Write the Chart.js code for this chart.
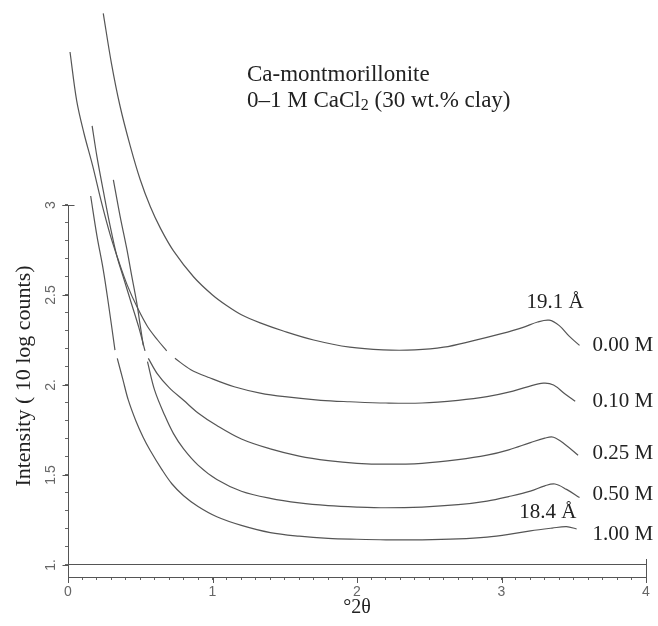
<!DOCTYPE html>
<html><head><meta charset="utf-8">
<script src="https://cdn.jsdelivr.net/npm/chart.js@4.4.1/dist/chart.umd.min.js"></script>
<style>html,body{margin:0;padding:0;background:#fff}#wrap{width:658px;height:626px;position:relative}</style>
</head><body><div id="wrap"><canvas id="c" width="658" height="626"></canvas></div>
<script>
// ---- data ----
const seriesNames = ['0.00 M', '0.10 M', '0.25 M', '0.50 M', '1.00 M'];

const x000 = [0.244,0.30,0.36,0.43,0.50,0.57,0.64,0.73,0.87,1.00,1.10,1.20,1.33,1.49,1.70,1.95,2.18,2.40,2.60,2.80,3.00,3.15,3.25,3.33,3.40,3.47,3.54];
const y000 = [4.065,3.79,3.55,3.33,3.14,2.99,2.87,2.745,2.60,2.50,2.44,2.39,2.345,2.30,2.25,2.21,2.195,2.195,2.21,2.245,2.285,2.32,2.35,2.36,2.33,2.27,2.22];

const x010 = [0.014,0.06,0.11,0.17,0.23,0.29,0.35,0.41,0.48,0.55,0.62,0.683,0.71,0.74,0.85,0.98,1.15,1.33,1.50,1.75,1.95,2.20,2.45,2.70,2.90,3.05,3.18,3.29,3.36,3.44,3.51];
const y010 = [3.85,3.58,3.40,3.22,3.02,2.84,2.69,2.555,2.43,2.325,2.25,2.19,null,2.148,2.085,2.04,1.99,1.955,1.935,1.915,1.907,1.90,1.90,1.915,1.935,1.96,1.99,2.01,2.00,1.95,1.91];

const x025 = [0.167,0.20,0.244,0.29,0.337,0.39,0.44,0.49,0.533,0.545,0.556,0.62,0.70,0.80,0.90,1.03,1.20,1.40,1.60,1.80,2.00,2.20,2.45,2.70,2.90,3.05,3.20,3.30,3.36,3.44,3.53];
const y025 = [3.44,3.27,3.08,2.89,2.72,2.58,2.45,2.32,2.19,null,2.148,2.06,1.985,1.915,1.845,1.775,1.70,1.645,1.605,1.58,1.565,1.56,1.565,1.585,1.61,1.64,1.68,1.705,1.71,1.67,1.61];

const x050 = [0.314,0.36,0.406,0.44,0.475,0.50,0.521,0.535,0.55,0.60,0.67,0.73,0.80,0.90,1.03,1.20,1.40,1.60,1.80,2.00,2.20,2.45,2.70,2.90,3.05,3.20,3.30,3.37,3.45,3.54];
const y050 = [3.14,2.94,2.76,2.61,2.46,2.33,2.22,null,2.13,1.97,1.83,1.73,1.645,1.555,1.475,1.41,1.37,1.345,1.33,1.322,1.318,1.322,1.335,1.355,1.38,1.41,1.44,1.45,1.42,1.375];

const x100 = [0.157,0.20,0.244,0.28,0.325,0.333,0.341,0.38,0.417,0.47,0.52,0.567,0.65,0.72,0.80,0.90,1.03,1.20,1.40,1.60,1.80,2.00,2.20,2.45,2.70,2.90,3.05,3.20,3.35,3.45,3.52];
const y100 = [3.05,2.83,2.64,2.45,2.194,null,2.148,2.03,1.917,1.80,1.71,1.639,1.53,1.45,1.385,1.325,1.268,1.22,1.18,1.16,1.148,1.143,1.14,1.14,1.145,1.155,1.17,1.19,1.205,1.213,1.20];

const xTickLabels = ['0', '1', '2', '3', '4'];
const yTickValues = [1, 1.5, 2, 2.5, 3];
const yTickLabels = ['1.', '1.5', '2.', '2.5', '3'];

const peakLabels = ['19.1 Å', '18.4 Å'];
const peakLabelX = [3.37, 3.32];
const peakLabelY = [2.46, 1.29];
const seriesLabelX = 3.63;
const seriesLabelY = [2.22, 1.906, 1.62, 1.39, 1.167];

const titleLine1 = 'Ca-montmorillonite';
const titleLine2 = ['0–1 M CaCl', '2', ' (30 wt.% clay)'];
const yTitle = 'Intensity ( 10 log counts)';
const xTitle = '°2θ';

// ---- chart ----
const xs = [x000, x010, x025, x050, x100];
const ys = [y000, y010, y025, y050, y100];
const datasets = seriesNames.map((n, k) => ({
  label: n,
  data: xs[k].map((x, i) => ({ x: x, y: ys[k][i] })),
  borderColor: '#555',
  borderWidth: 1.2,
  pointRadius: 0,
  fill: false,
  spanGaps: false,
  tension: 0.35
}));

const SERIF = '"Liberation Serif", "Times New Roman", serif';
const SANS = '"Liberation Sans", Arial, sans-serif';

const decor = {
  id: 'decor',
  afterDraw(chart) {
    const ctx = chart.ctx, xS = chart.scales.x, yS = chart.scales.y, a = chart.chartArea;
    ctx.save();
    ctx.strokeStyle = '#555';
    ctx.lineWidth = 1;
    const L = Math.round(a.left) + 0.5;
    const y3 = Math.round(yS.getPixelForValue(3)) + 0.5;
    ctx.beginPath(); ctx.moveTo(L, y3); ctx.lineTo(L, a.bottom + 2); ctx.stroke();
    ctx.beginPath(); ctx.moveTo(L - 6, y3); ctx.lineTo(L + 6, y3); ctx.stroke();
    yTickValues.forEach(v => {
      const p = Math.round(yS.getPixelForValue(v)) + 0.5;
      ctx.beginPath(); ctx.moveTo(L - 6, p); ctx.lineTo(L, p); ctx.stroke();
    });
    xTickLabels.forEach((t, i) => {
      const p = Math.round(xS.getPixelForValue(i)) + 0.5;
      ctx.beginPath(); ctx.moveTo(p, a.bottom); ctx.lineTo(p, a.bottom + 6); ctx.stroke();
    });
    const R = Math.round(xS.getPixelForValue(4)) + 0.5;
    ctx.beginPath(); ctx.moveTo(R, yS.getPixelForValue(1) - 6); ctx.lineTo(R, a.bottom + 3); ctx.stroke();

    ctx.fillStyle = '#666';
    ctx.font = '14px ' + SANS;
    ctx.textAlign = 'center'; ctx.textBaseline = 'middle';
    yTickValues.forEach((v, i) => {
      ctx.save();
      ctx.translate(L - 17, yS.getPixelForValue(v));
      ctx.rotate(-Math.PI / 2);
      ctx.fillText(yTickLabels[i], 0, 0);
      ctx.restore();
    });

    ctx.fillStyle = '#222';
    ctx.font = '22px ' + SERIF;
    ctx.save();
    ctx.translate(24, yS.getPixelForValue(2.05));
    ctx.rotate(-Math.PI / 2);
    ctx.fillText(yTitle, 0, 0);
    ctx.restore();

    ctx.font = '23px ' + SERIF;
    ctx.textAlign = 'left'; ctx.textBaseline = 'middle';
    const tx = 247;
    ctx.fillText(titleLine1, tx, 75);
    let cx = tx;
    ctx.fillText(titleLine2[0], cx, 101); cx += ctx.measureText(titleLine2[0]).width;
    ctx.font = '16px ' + SERIF;
    ctx.fillText(titleLine2[1], cx, 106); cx += ctx.measureText(titleLine2[1]).width;
    ctx.font = '23px ' + SERIF;
    ctx.fillText(titleLine2[2], cx, 101);

    ctx.font = '21px ' + SERIF;
    seriesNames.forEach((n, i) => {
      ctx.fillText(n, xS.getPixelForValue(seriesLabelX), yS.getPixelForValue(seriesLabelY[i]));
    });
    ctx.textAlign = 'center';
    peakLabels.forEach((t, i) => {
      ctx.fillText(t, xS.getPixelForValue(peakLabelX[i]), yS.getPixelForValue(peakLabelY[i]));
    });
    ctx.restore();
  }
};

new Chart(document.getElementById('c'), {
  type: 'line',
  data: { datasets },
  plugins: [decor],
  options: {
    responsive: false,
    animation: false,
    devicePixelRatio: 1,
    layout: { padding: { top: 5, right: 12, left: 0, bottom: 0 } },
    plugins: { legend: { display: false }, tooltip: { enabled: false }, title: { display: false } },
    scales: {
      x: {
        type: 'linear', position: 'bottom', min: 0, max: 4,
        afterBuildTicks: s => { s.ticks = Array.from({ length: 41 }, (_, i) => ({ value: i / 10 })); },
        afterFit: s => { s.height = 49; },
        ticks: {
          autoSkip: false, maxRotation: 0, minRotation: 0, padding: 4,
          color: '#666', font: { family: SANS, size: 14 },
          callback: (v) => { const r = Math.round(v * 10); return r % 10 === 0 ? xTickLabels[r / 10] : ''; }
        },
        grid: { drawOnChartArea: false, drawTicks: true, tickLength: 3, tickColor: '#666' },
        border: { display: true, color: '#555', width: 1 },
        title: { display: true, text: xTitle, color: '#222', font: { family: SERIF, size: 20 }, padding: { top: 0, bottom: 6 } }
      },
      y: {
        type: 'linear', position: 'left', min: 0.93333, max: 4.11111,
        afterBuildTicks: s => { s.ticks = Array.from({ length: 21 }, (_, i) => ({ value: (i + 10) / 10 })); },
        afterFit: s => { s.width = 68; },
        ticks: { display: false },
        grid: {
          drawOnChartArea: true, drawTicks: true, tickLength: 3, tickColor: '#666', lineWidth: 1,
          color: c => (c.tick && Math.abs(c.tick.value - 1) < 1e-6) ? '#555' : 'rgba(0,0,0,0)'
        },
        border: { display: false }
      }
    }
  }
});
</script>
</body></html>
